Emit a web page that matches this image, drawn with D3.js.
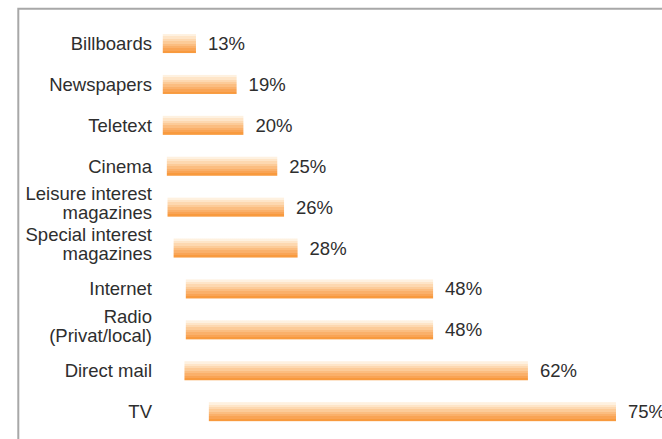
<!DOCTYPE html>
<html>
<head>
<meta charset="utf-8">
<script src="https://cdn.jsdelivr.net/npm/d3@7"></script>
<style>
  html, body { margin: 0; padding: 0; background: #fff; }
  svg { display: block; }
  text { font-family: "Liberation Sans", Arial, Helvetica, sans-serif; fill: #2e2e2e; }
</style>
</head>
<body>
<svg id="chart" width="662" height="439"></svg>
<script>
// Media channels and the share of respondents using each (%)
const categories = [
  "Billboards",
  "Newspapers",
  "Teletext",
  "Cinema",
  "Leisure interest\nmagazines",
  "Special interest\nmagazines",
  "Internet",
  "Radio\n(Privat/local)",
  "Direct mail",
  "TV"
];
const values = [13, 19, 20, 25, 26, 28, 48, 48, 62, 75];
// Where each bar begins on the percent axis
const barStarts = [8.1, 8.1, 8.1, 8.7, 8.8, 9.7, 11.5, 11.5, 11.3, 14.9];
const valueLabels = values.map(v => v + "%");

const svg = d3.select("#chart");

// Horizontal percent scale
const x = d3.scaleLinear().domain([0, 75]).range([107.9, 616]);

// One band per channel
const y = d3.scaleBand()
  .domain(categories)
  .range([23.1, 432.1])
  .paddingInner(0.535)
  .paddingOuter(0.2675);

// Banded cream-to-orange fill of the bars
const bands = ["#fef1e0", "#fee5c8", "#fdd8b0", "#fccb98", "#fbbd80", "#fab06a", "#f9a455", "#f89a3e"];
const grad = svg.append("defs").append("linearGradient")
  .attr("id", "barFill")
  .attr("x1", 0).attr("y1", 0).attr("x2", 0).attr("y2", 1);
bands.forEach((c, i) => {
  grad.append("stop").attr("offset", i / bands.length).attr("stop-color", c);
  grad.append("stop").attr("offset", (i + 1) / bands.length).attr("stop-color", c);
});

// Frame lines on the top and left
svg.append("path")
  .attr("d", "M18.3,439V8.8H662")
  .attr("fill", "none")
  .attr("stroke", "#a8a8a8")
  .attr("stroke-width", 2);

const rows = svg.append("g").selectAll("g")
  .data(categories.map((c, i) => ({ c, v: values[i], s: barStarts[i], label: valueLabels[i] })))
  .join("g");

rows.append("rect")
  .attr("x", d => x(d.s))
  .attr("y", d => y(d.c))
  .attr("width", d => x(d.v) - x(d.s))
  .attr("height", y.bandwidth())
  .attr("fill", "url(#barFill)");

rows.append("text")
  .attr("x", d => x(d.v) + 12)
  .attr("y", d => y(d.c) + y.bandwidth() / 2 + 6.5)
  .attr("font-size", "18.5px")
  .text(d => d.label);

// Category names, right-aligned, wrapped onto two lines where needed
const cat = rows.append("text")
  .attr("text-anchor", "end")
  .attr("font-size", "18.5px");
cat.each(function(d) {
  const lines = d.c.split("\n");
  const cy = y(d.c) + y.bandwidth() / 2;
  const t = d3.select(this);
  if (lines.length === 1) {
    t.append("tspan").attr("x", 152).attr("y", cy + 6.5).text(lines[0]);
  } else {
    t.append("tspan").attr("x", 152).attr("y", cy - 7).text(lines[0]);
    t.append("tspan").attr("x", 152).attr("y", cy + 12).text(lines[1]);
  }
});
</script>
</body>
</html>
